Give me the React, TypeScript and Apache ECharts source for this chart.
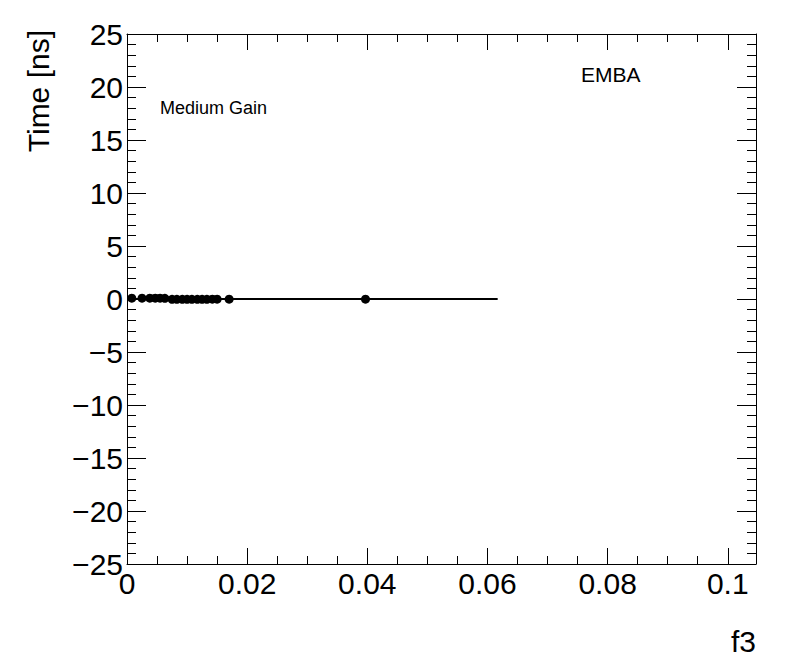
import React, { useEffect, useRef } from "react";
import * as echarts from "echarts";

const pointX = [0.0008, 0.0025, 0.0038, 0.0047, 0.0055, 0.0063, 0.0075, 0.0083, 0.0092, 0.01, 0.0108, 0.0117, 0.0125, 0.0133, 0.0142, 0.015, 0.017, 0.0397];
const pointY = [0.08, 0.08, 0.08, 0.08, 0.08, 0.06, -0.03, -0.03, -0.03, -0.03, -0.03, -0.03, -0.03, -0.03, -0.02, -0.02, -0.02, -0.02];
const fitX = [0, 0.0617];
const fitY = [0, 0];
const X_MIN = 0;
const X_MAX = 0.1047;
const Y_MIN = -25;
const Y_MAX = 25;

const FONT = "Liberation Sans, Arial, Helvetica, sans-serif";

export default function App() {
  const ref = useRef<HTMLDivElement>(null);
  useEffect(() => {
    if (!ref.current) return;
    const chart = echarts.init(ref.current, undefined, { renderer: "svg" });
    const line = { show: true, onZero: false, lineStyle: { color: "#000", width: 1 } };
    const xBase = (pos: string, interval: number, len: number, labels: boolean, axisLineShow: boolean) => ({
      type: "value",
      position: pos,
      min: X_MIN,
      max: X_MAX,
      interval,
      axisLine: { ...line, show: axisLineShow },
      axisTick: { show: true, inside: true, length: len, lineStyle: { color: "#000", width: 1 } },
      axisLabel: labels
        ? {
            show: true,
            showMaxLabel: false,
            margin: 4,
            color: "#000",
            fontSize: 30,
            fontFamily: FONT,
            formatter: (v: number) => String(+v.toFixed(4)),
          }
        : { show: false },
      splitLine: { show: false },
    });
    const yBase = (pos: string, interval: number, len: number, labels: boolean, axisLineShow: boolean) => ({
      type: "value",
      position: pos,
      min: Y_MIN,
      max: Y_MAX,
      interval,
      axisLine: { ...line, show: axisLineShow },
      axisTick: { show: true, inside: true, length: len, lineStyle: { color: "#000", width: 1 } },
      axisLabel: labels
        ? {
            show: true,
            margin: 4,
            color: "#000",
            fontSize: 30,
            fontFamily: FONT,
            formatter: (v: number) => String(v).replace("-", "\u2212"),
          }
        : { show: false },
      splitLine: { show: false },
    });
    chart.setOption({
      animation: false,
      backgroundColor: "#fff",
      grid: { left: 127, right: 40, top: 34, bottom: 108, containLabel: false },
      xAxis: [
        xBase("bottom", 0.02, 16, true, true),
        xBase("bottom", 0.005, 8, false, false),
        xBase("top", 0.02, 16, false, true),
        xBase("top", 0.005, 8, false, false),
      ],
      yAxis: [
        yBase("left", 5, 19, true, true),
        yBase("left", 1, 9, false, false),
        yBase("right", 5, 19, false, true),
        yBase("right", 1, 9, false, false),
      ],
      series: [
        {
          type: "line",
          xAxisIndex: 0,
          yAxisIndex: 0,
          data: fitX.map((x, i) => [x, fitY[i]]),
          symbol: "none",
          lineStyle: { color: "#000", width: 2 },
          z: 2,
        },
        {
          type: "scatter",
          xAxisIndex: 0,
          yAxisIndex: 0,
          data: pointX.map((x, i) => [x, pointY[i]]),
          symbol: "circle",
          symbolSize: 9,
          itemStyle: { color: "#000", opacity: 1 },
          z: 3,
        },
      ],
      graphic: [
        {
          type: "text",
          x: 38,
          y: 30,
          rotation: Math.PI / 2,
          style: { text: "Time [ns]", fill: "#000", fontSize: 30, fontFamily: FONT, align: "right", verticalAlign: "middle" },
        },
        {
          type: "text",
          x: 756,
          y: 641,
          style: { text: "f3", fill: "#000", fontSize: 30, fontFamily: FONT, align: "right", verticalAlign: "middle" },
        },
        {
          type: "text",
          x: 160,
          y: 108,
          style: { text: "Medium Gain", fill: "#000", fontSize: 18, fontFamily: FONT, align: "left", verticalAlign: "middle" },
        },
        {
          type: "text",
          x: 581,
          y: 74,
          style: { text: "EMBA", fill: "#000", fontSize: 21, fontFamily: FONT, align: "left", verticalAlign: "middle" },
        },
      ],
    });
    return () => chart.dispose();
  }, []);
  return <div ref={ref} style={{ width: 796, height: 672, position: "absolute", left: 0, top: 0 }} />;
}
